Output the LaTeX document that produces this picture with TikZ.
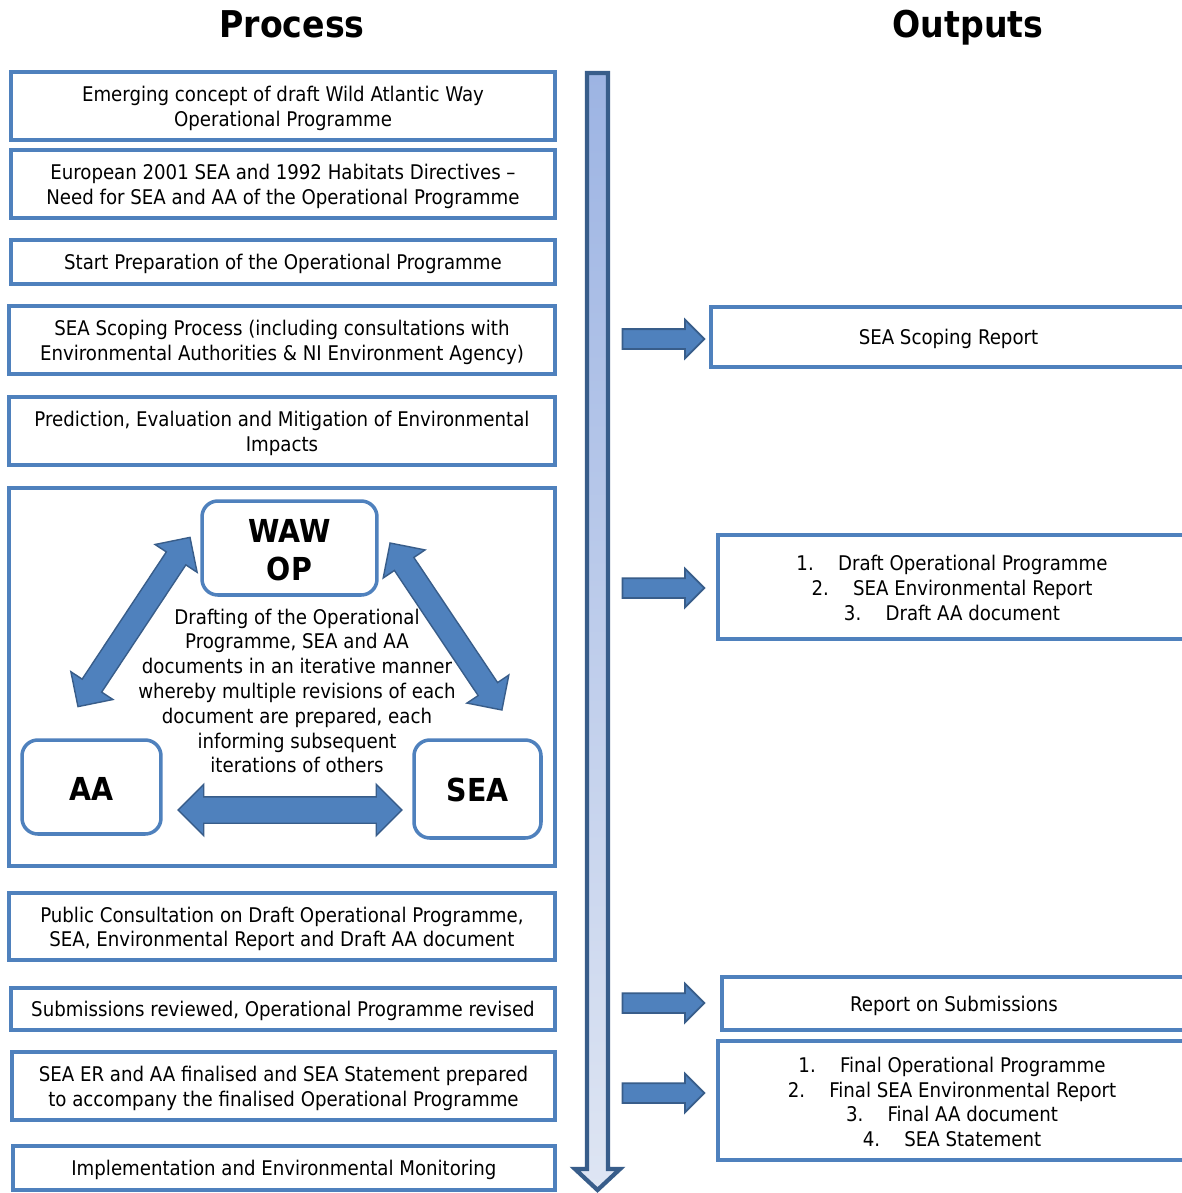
\documentclass[tikz,border=0pt]{standalone}
\usepackage{fontspec}
\IfFontExistsTF{DejaVu Sans Condensed}
  {\setmainfont{DejaVu Sans Condensed}}
  {\setmainfont{DejaVu Sans}[FakeStretch=0.88]}
\usetikzlibrary{shapes.arrows}
\definecolor{BoxBlue}{RGB}{79,129,189}
\definecolor{ArrowBlue}{RGB}{79,129,189}
\definecolor{ArrowEdge}{RGB}{56,93,138}
\definecolor{ShaftTop}{RGB}{157,180,227}
\definecolor{ShaftBottom}{RGB}{222,229,243}
\newcommand{\bodyfont}{\fontsize{11.5}{14.2}\selectfont}

\begin{document}
\begin{tikzpicture}[x=0.02cm, y=-0.02cm]
    % --- Styles ---
    \tikzset{
      procbox/.style={draw=BoxBlue, line width=2pt, fill=white, align=center, inner sep=2pt, font=\bodyfont,
        text height=11pt},
      twoline/.style={text height=25.7pt},
      threeline/.style={text height=38.2pt},
      fourline/.style={text height=53pt},
      roundbox/.style={procbox, rounded corners=9pt, font=\fontsize{18}{21.5}\selectfont\bfseries,
        text height=15pt},
      outarrow/.style={single arrow, draw=ArrowEdge, fill=ArrowBlue, line width=1pt, inner xsep=0pt, inner ysep=0.18cm,
        minimum width=0.74cm, minimum height=1.64cm, single arrow head extend=0.19cm},
      cyclearrow/.style={double arrow, draw=ArrowEdge, fill=ArrowBlue, line width=0.8pt, inner xsep=0pt, inner ysep=0.22cm,
        minimum width=1cm, double arrow head extend=0.27cm},
      heading/.style={font=\fontsize{21}{24}\selectfont\bfseries, anchor=base}
    }
    \fill[white] (0,0) rectangle (1182,1193);
    \useasboundingbox (0,0) rectangle (1182,1193);

    % --- Headings ---
    \node[heading] (proc) at (292,38) {Process};
    \node[heading] (outp) at (968,38) {Outputs};

    % --- Time line ---
    \shade[top color=ShaftTop, bottom color=ShaftBottom, draw=ArrowEdge, line width=2.4pt]
      (587,73) -- (608,73) -- (608,1169) -- (620,1169) -- (597.5,1190) -- (575,1169) -- (587,1169) -- cycle;

    % --- Process steps ---
    \node[procbox, twoline, minimum width=10.88cm, minimum height=1.36cm] (emerg) at (283,106)
      {Emerging concept of draft Wild Atlantic Way\\Operational Programme};
    \node[procbox, twoline, minimum width=10.88cm, minimum height=1.36cm] (europ) at (283,184)
      {European 2001 SEA and 1992 Habitats Directives –\\Need for SEA and AA of the Operational Programme};
    \node[procbox, minimum width=10.88cm, minimum height=0.88cm] (start) at (283,262)
      {Start Preparation of the Operational Programme};
    \node[procbox, twoline, minimum width=10.92cm, minimum height=1.36cm] (scope) at (282,340)
      {SEA Scoping Process (including consultations with\\Environmental Authorities \& NI Environment Agency)};
    \node[procbox, twoline, minimum width=10.92cm, minimum height=1.36cm] (predict) at (282,431)
      {Prediction, Evaluation and Mitigation of Environmental\\Impacts};
    \node[procbox, minimum width=10.92cm, minimum height=7.56cm] (iterate) at (282,677) {};
    \node[procbox, twoline, minimum width=10.92cm, minimum height=1.34cm] (public) at (282,926.5)
      {Public Consultation on Draft Operational Programme,\\SEA, Environmental Report and Draft AA document};
    \node[procbox, minimum width=10.88cm, minimum height=0.84cm] (review) at (283,1009)
      {Submissions reviewed, Operational Programme revised};
    \node[procbox, twoline, minimum width=10.86cm, minimum height=1.36cm] (finalise) at (283.5,1086)
      {SEA ER and AA finalised and SEA Statement prepared\\to accompany the finalised Operational Programme};
    \node[procbox, minimum width=10.84cm, minimum height=0.88cm] (monitor) at (284,1168)
      {Implementation and Environmental Monitoring};

    % --- Iterative drafting cycle ---
    \node[cyclearrow, minimum height=4.06cm, rotate=56.5] (leftarr) at (134,622) {};
    \node[cyclearrow, minimum height=4.02cm, rotate=-56.2] (rightarr) at (446,626.5) {};
    \node[cyclearrow, minimum height=4.48cm, inner ysep=0.25cm, double arrow head extend=0.25cm] (basearr) at (290,810) {};
    \node[roundbox, text height=37pt, minimum width=3.5cm, minimum height=1.88cm] (wawop) at (289.5,548) {WAW\\OP};
    \node[roundbox, minimum width=2.78cm, minimum height=1.88cm] (aa) at (91.5,787) {AA};
    \node[roundbox, minimum width=2.54cm, minimum height=1.96cm] (sea) at (477.5,789) {SEA};
    \node[align=center, font=\fontsize{11.5}{14.1}\selectfont] (drafting) at (297,691)
      {Drafting of the Operational\\Programme, SEA and AA\\documents in an iterative manner\\whereby multiple revisions of each\\document are prepared, each\\informing subsequent\\iterations of others};

    % --- Outputs ---
    \node[procbox, minimum width=9.5cm, minimum height=1.2cm] (scoprep) at (948.5,337) {SEA Scoping Report};
    \node[procbox, threeline, minimum width=9.36cm, minimum height=2.08cm] (draftout) at (952,587)
      {1.\hspace{1.2em}Draft Operational Programme\\2.\hspace{1.2em}SEA Environmental Report\\3.\hspace{1.2em}Draft AA document};
    \node[procbox, minimum width=9.28cm, minimum height=1.06cm] (subrep) at (954,1003.5) {Report on Submissions};
    \node[procbox, fourline, minimum width=9.36cm, minimum height=2.38cm] (finalout) at (952,1100.5)
      {1.\hspace{1.2em}Final Operational Programme\\2.\hspace{1.2em}Final SEA Environmental Report\\3.\hspace{1.2em}Final AA document\\4.\hspace{1.2em}SEA Statement};

    % --- Output arrows ---
    \node[outarrow] (toscope) at (658.5,339) {};
    \node[outarrow] (todraft) at (658.5,588) {};
    \node[outarrow] (tosubs) at (658.5,1003) {};
    \node[outarrow] (tofinal) at (658.5,1093) {};
\end{tikzpicture}
\end{document}
